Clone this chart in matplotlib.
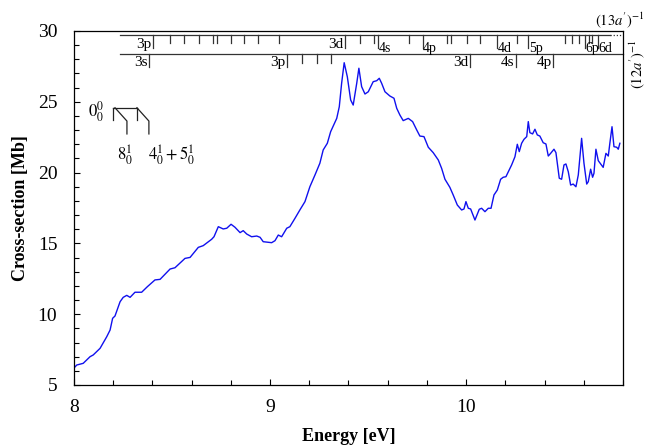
import matplotlib
matplotlib.use("Agg")
import matplotlib.pyplot as plt
from matplotlib.ticker import MultipleLocator

plt.rcParams["font.family"] = ["Liberation Serif", "DejaVu Serif"]
plt.rcParams["mathtext.fontset"] = "stix"

# cross-section curve
energy = [8.000, 8.014, 8.047, 8.082, 8.098, 8.133, 8.167, 8.184, 8.197, 8.209,
          8.235, 8.251, 8.269, 8.286, 8.311, 8.345, 8.374, 8.413, 8.439, 8.490,
          8.515, 8.566, 8.592, 8.634, 8.659, 8.702, 8.714, 8.736, 8.761, 8.779,
          8.801, 8.821, 8.847, 8.863, 8.881, 8.906, 8.932, 8.949, 8.965, 9.008,
          9.025, 9.042, 9.059, 9.085, 9.101, 9.127, 9.152, 9.178, 9.203, 9.229,
          9.254, 9.271, 9.292, 9.309, 9.340, 9.353, 9.365, 9.378, 9.394, 9.411,
          9.424, 9.442, 9.453, 9.467, 9.484, 9.501, 9.526, 9.544, 9.557, 9.569,
          9.586, 9.611, 9.632, 9.646, 9.662, 9.679, 9.705, 9.727, 9.748, 9.764,
          9.785, 9.807, 9.832, 9.858, 9.875, 9.892, 9.917, 9.934, 9.955, 9.977,
          9.989, 9.999, 10.011, 10.023, 10.045, 10.067, 10.079, 10.096, 10.113, 10.127,
          10.142, 10.159, 10.176, 10.189, 10.203, 10.215, 10.232, 10.249, 10.261, 10.271,
          10.283, 10.295, 10.309, 10.317, 10.325, 10.339, 10.351, 10.363, 10.376, 10.393,
          10.407, 10.419, 10.431, 10.448, 10.458, 10.475, 10.487, 10.499, 10.509, 10.521,
          10.533, 10.546, 10.560, 10.572, 10.589, 10.601, 10.615, 10.623, 10.635, 10.645,
          10.652, 10.662, 10.674, 10.686, 10.699, 10.713, 10.725, 10.733, 10.744, 10.754,
          10.768, 10.776, 10.784]
sigma = [6.20, 6.41, 6.53, 7.00, 7.12, 7.59, 8.41, 8.88, 9.71, 9.87,
         10.88, 11.19, 11.33, 11.19, 11.55, 11.55, 11.94, 12.42, 12.46, 13.19,
         13.28, 13.94, 14.01, 14.72, 14.84, 15.29, 15.47, 16.18, 16.02, 16.07,
         16.35, 16.14, 15.76, 15.90, 15.66, 15.47, 15.52, 15.43, 15.12, 15.05,
         15.19, 15.59, 15.47, 16.07, 16.18, 16.77, 17.36, 17.95, 19.00, 19.83,
         20.66, 21.60, 22.07, 22.89, 23.83, 24.65, 26.31, 27.76, 26.77, 25.13,
         24.77, 26.31, 27.37, 26.07, 25.55, 25.71, 26.42, 26.49, 26.66, 26.31,
         25.71, 25.41, 25.25, 24.54, 24.07, 23.67, 23.83, 23.60, 23.01, 22.58,
         22.54, 21.79, 21.41, 20.89, 20.30, 19.53, 18.96, 18.42, 17.71, 17.36,
         17.43, 17.95, 17.48, 17.43, 16.65, 17.41, 17.48, 17.24, 17.48, 17.48,
         18.42, 18.77, 19.53, 19.67, 19.71, 20.06, 20.54, 21.12, 22.00, 21.48,
         22.07, 22.35, 22.54, 23.60, 22.82, 22.73, 23.06, 22.66, 22.58, 22.11,
         22.02, 21.17, 21.36, 21.65, 21.41, 19.60, 19.53, 20.54, 20.61, 20.06,
         19.12, 19.19, 19.00, 19.83, 22.42, 20.66, 19.19, 19.36, 20.24, 19.67,
         19.95, 21.65, 20.84, 20.61, 20.37, 21.36, 21.17, 22.07, 23.24, 21.83,
         21.79, 21.65, 22.07]

# Rydberg series converging to (13a')^-1
upper_minor = [8.490, 8.562, 8.639, 8.710, 8.730, 8.799, 8.867, 8.937, 9.045,
               9.458, 9.531, 9.709, 9.901, 9.921, 10.003, 10.070, 10.258,
               10.504, 10.538, 10.575, 10.628, 10.643]
upper_major = [8.404, 9.382, 9.549, 9.778, 10.156, 10.317, 10.606, 10.671]
upper_labels = ["3p", "3d", "4s", "4p", "4d", "5p", "6p", "6d"]
upper_side = ["L", "L", "R", "R", "R", "R", "R", "R"]

# Rydberg series converging to (12a')^-1
lower_minor = [9.161, 9.238, 9.311]
lower_major = [8.384, 9.085, 10.019, 10.252, 10.444]
lower_labels = ["3s", "3p", "3d", "4s", "4p"]

x_min, x_max = 8.0, 10.8
y_min, y_max = 5, 30

fig = plt.figure(figsize=(6.48, 4.46), dpi=100)
ax = fig.add_axes([0.1142, 0.1368, 0.8472, 0.7937])

ax.plot(energy, sigma, color="#1010ee", lw=1.0)

ax.set_xlim(x_min, x_max)
ax.set_ylim(y_min, y_max)
ax.xaxis.set_major_locator(MultipleLocator(1))
ax.xaxis.set_minor_locator(MultipleLocator(0.2))
ax.yaxis.set_major_locator(MultipleLocator(5))
ax.yaxis.set_minor_locator(MultipleLocator(1))
ax.tick_params(which="both", direction="in", top=False, right=False,
               labelsize=14, width=0.8)
ax.tick_params(axis="x", which="major", length=4.5, pad=10)
ax.tick_params(axis="y", which="major", length=4.5, pad=12)
ax.tick_params(which="minor", length=3.5)
for s in ax.spines.values():
    s.set_linewidth(0.9)

ax.set_xlabel("Energy [eV]", fontsize=13, fontweight="bold", labelpad=9)
ax.set_ylabel("Cross-section [Mb]", fontsize=13, fontweight="bold", labelpad=6)

# series bars
y_up, y_lo = 29.70, 28.41
lk = dict(color="#333333", lw=0.9, clip_on=False)
ax.plot([8.235, 10.733], [y_up, y_up], **lk)
ax.plot([10.733, x_max], [y_up, y_up], color="#333333", lw=0.9,
        ls=(0, (1, 1.5)), clip_on=False)
ax.plot([8.235, x_max], [y_lo, y_lo], **lk)

for e in upper_minor:
    ax.plot([e, e], [y_up, 29.15], **lk)
for e, lab, side in zip(upper_major, upper_labels, upper_side):
    ax.plot([e, e], [y_up, 28.80], **lk)
    if side == "L":
        ax.text(e - 0.008, 29.08, lab, ha="right", va="center", fontsize=11)
    else:
        ax.text(e + 0.003, 28.76, lab, ha="left", va="center", fontsize=10)

for e in lower_minor:
    ax.plot([e, e], [y_lo, 27.76], **lk)
for e, lab in zip(lower_major, lower_labels):
    ax.plot([e, e], [y_lo, 27.49], **lk)
    ax.text(e - 0.008, 27.80, lab, ha="right", va="center", fontsize=11)

ax.text(10.782, 30.75, r"$(13a')^{-1}$", ha="center", va="center", fontsize=10.5)
ax.text(10.872, 27.65, r"$(12a')^{-1}$", ha="center", va="center",
        rotation=90, fontsize=10.5)

# vibrational progression marker
bk = dict(color="#222222", lw=0.9)
ax.plot([8.199, 8.321], [24.58, 24.58], **bk)
ax.plot([8.199, 8.199], [24.58, 23.71], **bk)
ax.plot([8.209, 8.270, 8.270], [24.58, 23.64, 22.73], **bk)
ax.plot([8.321, 8.321], [24.58, 23.71], **bk)
ax.plot([8.321, 8.382, 8.382], [24.58, 23.64, 22.73], **bk)
ax.text(8.112, 24.28, r"$0_0^0$", ha="center", va="center", fontsize=12)
ax.text(8.260, 21.24, r"$8_0^1$", ha="center", va="center", fontsize=12)
ax.text(8.500, 21.24, r"$4_0^1+5_0^1$", ha="center", va="center", fontsize=12)

fig.savefig("out.png", dpi=100)
